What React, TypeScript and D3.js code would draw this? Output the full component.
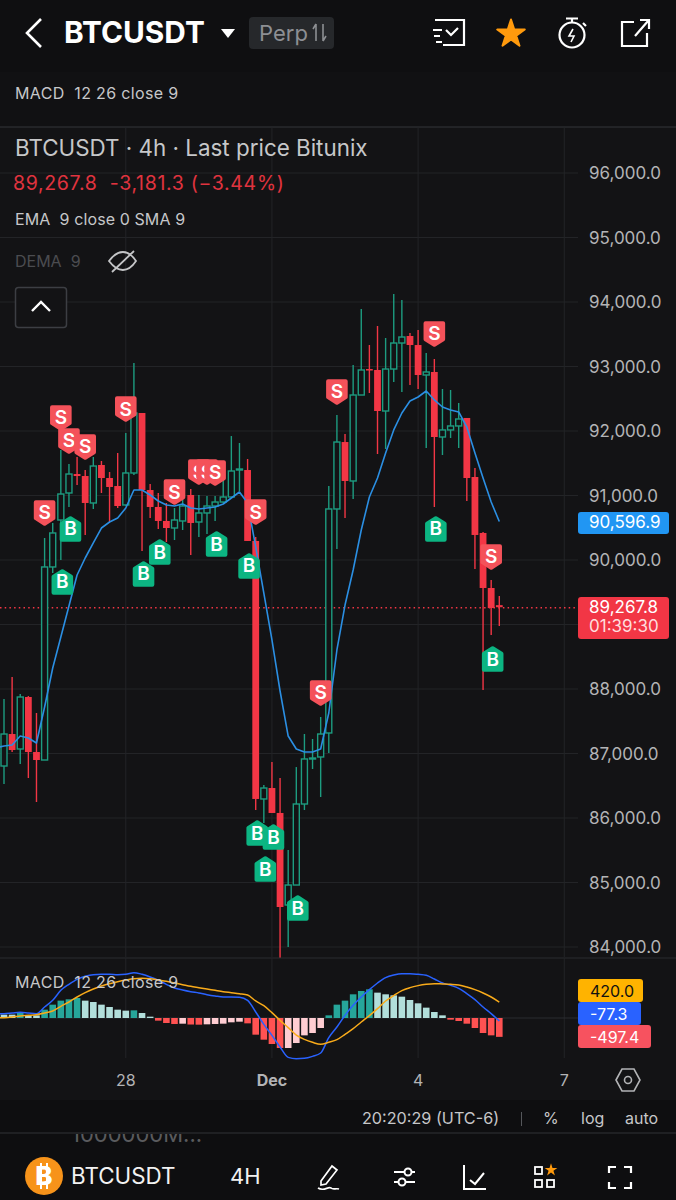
import React from "react";
import * as d3 from "d3";

// open, high, low, close
const opens = [86806,87302,87070,87876,87023,86899,89892,90620,91039,91333,91302,90884,91473,91271,91147,90853,91349,92279,91085,90822,90605,90496,90605,91008,90589,90729,90837,90899,90977,91395,91395,90295,86295,86465,86078,84651,84961,86217,86915,86946,87318,90791,91829,91225,92558,92961,92946,92310,92961,93364,93473,93333,92868,92915,91907,92016,92078,92202,91287,90419,89566,89300];
const highs = [87845,88186,87922,87891,87628,90341,90574,91705,91488,91597,91395,91597,91535,91364,91659,91969,93054,92279,91178,91039,90884,90806,90977,91101,91008,90992,90992,91426,91922,91814,91566,90357,86512,86868,86620,85504,86790,87302,87225,87566,91147,92248,91954,93023,93892,93333,93628,93442,94124,94031,93519,93566,93209,93116,92651,92636,92434,92202,91426,90434,89690,89442];
const lows = [86527,87023,86837,86620,86248,86899,89799,90000,90822,91163,90388,90791,91039,90589,90806,90837,91318,90140,90651,90481,90279,90310,90465,90078,90357,90403,90605,90884,90977,91070,90295,86124,85922,86078,83830,84000,84961,86124,86760,86326,87008,90171,90651,90946,92558,92589,91643,91721,92760,92604,92713,92651,91736,90822,91628,91891,91736,90915,89860,87985,88837,88977];
const closes = [87302,87054,87876,87023,86899,89892,90419,91023,91333,91302,90884,91457,91271,91132,90837,91349,92279,91085,90822,90605,90496,90620,90837,90574,90729,90837,90899,90977,91380,91411,90295,86295,86465,86078,84620,84961,86217,86915,86930,87302,90791,91829,91225,92558,92946,92946,92310,92961,93364,93457,93333,92868,92915,91907,92016,92078,92186,91271,90388,89566,89256,89267.8];

// EMA (first point sits one bar left of the first candle)
const emaValues = [87090,87116,87132,87271,87240,87163,87721,88326,88806,89287,89767,90031,90264,90496,90589,90651,90806,91085,91085,91008,90915,90853,90837,90868,90806,90791,90806,90822,90868,90961,91054,90884,90202,89488,88760,87969,87271,87070,87023,87023,87070,87628,88605,89302,89845,90465,90977,91271,91659,92016,92279,92465,92527,92620,92481,92372,92326,92295,92062,91659,91271,90899,90596.9];

const macdValues = [114,114,132,150,132,114,290,466,730,889,1021,1100,1144,1153,1153,1144,1153,1197,1153,1082,994,889,792,739,695,660,616,581,554,554,546,466,158,-167,-458,-766,-1038,-1074,-1065,-1012,-924,-519,-238,70,334,554,748,924,1065,1135,1170,1170,1153,1126,1030,924,862,783,642,484,290,114,-77.3];
const signalValues = [5,9,26,53,70,88,132,185,308,422,554,669,766,845,906,959,1003,1038,1047,1038,1003,968,924,880,836,801,766,730,695,669,642,607,449,326,141,-62,-255,-449,-563,-642,-695,-642,-572,-431,-282,-106,62,246,449,590,722,801,854,889,906,898,889,871,818,748,660,554,420];
const histValues = [88,88,132,70,70,220,352,458,493,528,458,422,352,290,220,194,202,132,35,-70,-132,-158,-150,-172,-176,-167,-158,-150,-114,-97,-141,-440,-572,-686,-792,-792,-660,-458,-396,-264,70,352,458,625,713,757,669,625,598,563,475,387,273,158,70,-44,-79,-150,-264,-396,-458,-497.4];

const sellIdx = [5,7,8,10,15,21,24,25,26,31,39,41,53,60];
const sellPrice = [90729,92202,91845,91752,92341,91054,91364,91364,91349,90744,87938,92605,93504,90047];
const buyIdx = [7,8,17,19,26,30,31,33,32,36,53,60];
const buyPrice = [89659,90481,89783,90124,90248,89907,85767,85705,85209,84604,90481,88465];

const priceTicks = [96000,95000,94000,93000,92000,91000,90000,89000,88000,87000,86000,85000,84000];
const timeTicks = [{ i: 15, label: "28", bold: false }, { i: 33, label: "Dec", bold: true }, { i: 51, label: "4", bold: false }, { i: 69, label: "7", bold: false }];

const lastPrice = 89267.8;
const emaLast = 90596.9;

const FONT = "Inter, 'Noto Sans', sans-serif";
const BG = "#131315";
const UP = "#1d9c80";
const DOWN = "#f23645";
const GRID = "#232427";
const AXIS = "#b3b4b6";
const TXT = "#c6c7c9";

const x = d3.scaleLinear().domain([0, 61]).range([4, 499.3]);
const y = d3.scaleLinear().domain([84000, 96000]).range([947, 173]);
const ym = d3.scaleLinear().domain([-1000, 1000]).range([1018 + 37.9, 1018 - 37.9]);
const fmt = d3.format(",.1f");

function markPath(cx: number, cy: number, up: boolean) {
  const s = up ? -1 : 1;
  const w = 8.8, t = 10.8, m = 5.2, b = 10.8;
  return `M${cx - w} ${cy - s * t}H${cx + w}V${cy + s * m}L${cx} ${cy + s * b}L${cx - w} ${cy + s * m}Z`;
}

function Mark({ i, price, kind }: { i: number; price: number; kind: "S" | "B" }) {
  const up = kind === "B";
  const cx = x(i) + (up ? 1.5 : 0);
  const cy = y(price);
  const c = up ? "#0cb582" : "#f4525a";
  return (
    <g>
      <path d={markPath(cx, cy, up)} fill={c} stroke={c} strokeWidth={4} strokeLinejoin="round" />
      <text x={cx} y={cy + 6.5} textAnchor="middle" fontSize={19} fontWeight={600} fill="#fff" fontFamily={FONT}>{kind}</text>
    </g>
  );
}

export default function App() {
  const ema = d3.line<number>().x((_, i) => x(i - 1)).y((d) => y(d))(emaValues) as string;
  const macd = d3.line<number>().x((_, i) => x(i - 1)).y((d) => ym(d)).curve(d3.curveMonotoneX)(macdValues) as string;
  const signal = d3.line<number>().x((_, i) => x(i - 1)).y((d) => ym(d)).curve(d3.curveMonotoneX)(signalValues) as string;
  const star = d3.symbol().type(d3.symbolStar).size(235)() as string;
  return (
    <svg width={676} height={1200} style={{ position: "absolute", left: 0, top: 0, display: "block" }} fontFamily={FONT}>
      <defs>
        <clipPath id="ghost"><rect x={0} y={1134} width={676} height={9} /></clipPath>
      </defs>
      <rect width={676} height={1200} fill={BG} />
      <rect width={676} height={72} fill="#0f0f11" />
      <rect y={72} width={676} height={55} fill="#111113" />

      {/* header */}
      <path d="M41 19L27 33L41 47" fill="none" stroke="#fff" strokeWidth={2.6} />
      <text x={64} y={43} fontSize={29.8} fontWeight={700} fill="#fff">BTCUSDT</text>
      <path d="M221 29H235L228 38Z" fill="#fff" />
      <rect x={249} y={17} width={85} height={32} rx={4} fill="#26282b" />
      <text x={259} y={41} fontSize={22} fill="#8d8f93">Perp</text>
      <path d="M316 24V41M316 24L313 29M323 41V24M323 41L326 36" stroke="#8d8f93" strokeWidth={1.6} fill="none" />
      <path d="M435 20H464V45H443M433 30H442M434 36H440M436 42H442M446 30L451 35L458 28" stroke="#fff" strokeWidth={2.2} fill="none" />
      <path d={star} transform="translate(511,34)" fill="#ff9a0d" stroke="#ff9a0d" strokeWidth={2} strokeLinejoin="round" />
      <circle cx={572} cy={35} r={12.5} fill="none" stroke="#fff" strokeWidth={2.2} />
      <path d="M566 18.5H578M572 19V22M583 23L586 26" stroke="#fff" strokeWidth={2.2} fill="none" />
      <path d="M573 29L569 36H574L571 42" stroke="#fff" strokeWidth={1.6} fill="none" />
      <path d="M634 22H622V46H647V33M635 36L648 21M640 20H649V29" stroke="#fff" strokeWidth={2.2} fill="none" />

      <text x={15} y={99} fontSize={16} letterSpacing={0.35} fill={TXT}>{"MACD\u00a0\u00a012 26 close 9"}</text>
      <line x1={0} x2={676} y1={127} y2={127} stroke="#34363b" strokeWidth={1} />

      {/* grid */}
      {priceTicks.map((p) => <line key={p} x1={0} x2={578} y1={y(p)} y2={y(p)} stroke={GRID} />)}
      {timeTicks.map((t) => <line key={t.label} x1={x(t.i)} x2={x(t.i)} y1={127} y2={957} stroke={GRID} />)}

      <text x={15} y={156} fontSize={22.4} fill={TXT}>BTCUSDT · 4h · Last price Bitunix</text>
      <text x={13} y={190} fontSize={19.5} letterSpacing={0.67} fill="#e0333f">{"89,267.8\u00a0\u00a0-3,181.3 (−3.44%)"}</text>
      <text x={15} y={225} fontSize={16} letterSpacing={0.1} fill={TXT}>{"EMA\u00a0\u00a09 close 0 SMA 9"}</text>
      <text x={15} y={267} fontSize={16} fill="#4b4c50">{"DEMA\u00a0\u00a09"}</text>
      <path d="M109 261C118 249 128 249 136 261C128 273 118 273 109 261ZM112 272L134 251" fill="none" stroke="#c4c5c7" strokeWidth={1.8} />
      <rect x={15.5} y={287.5} width={51} height={40} rx={3} fill={BG} stroke="#3c3e43" strokeWidth={1.5} />
      <path d="M32 311L41 302L50 311" fill="none" stroke="#fff" strokeWidth={2.4} />

      {/* price line */}
      <line x1={0} x2={578} y1={y(lastPrice) + 0.5} y2={y(lastPrice) + 0.5} stroke={DOWN} strokeWidth={1.5} strokeDasharray="1.5 3.2" />

      {/* candles */}
      {opens.map((o, i) => {
        const c = closes[i];
        const up = c >= o;
        const col = up ? UP : DOWN;
        const top = y(Math.max(o, c));
        const bot = y(Math.min(o, c));
        return (
          <g key={i}>
            <line x1={x(i)} x2={x(i)} y1={y(highs[i])} y2={y(lows[i])} stroke={col} strokeWidth={1.4} />
            {up
              ? <rect x={x(i) - 3} y={top} width={6} height={Math.max(bot - top, 1)} fill={BG} stroke={col} strokeWidth={1.4} />
              : <rect x={x(i) - 3.4} y={top} width={6.8} height={Math.max(bot - top, 1.5)} fill={col} />}
          </g>
        );
      })}
      <path d={ema} fill="none" stroke="#2b8fe3" strokeWidth={1.6} strokeLinejoin="round" />

      {/* signals */}
      {sellIdx.map((i, k) => ({ i, price: sellPrice[k], kind: "S" as const }))
        .concat(buyIdx.map((i, k) => ({ i, price: buyPrice[k], kind: "B" as any })))
        .map((m, k) => <Mark key={k} i={m.i} price={m.price} kind={m.kind} />)}

      {/* price axis */}
      {priceTicks.map((p) => (
        <text key={p} x={589} y={y(p) + 6} fontSize={17} fill={AXIS}>{fmt(p)}</text>
      ))}
      <rect x={578} y={512} width={91} height={22} rx={3} fill="#2196f3" />
      <text x={589} y={y(emaLast) + 6.5} fontSize={17} fill="#fff">{fmt(emaLast)}</text>
      <rect x={578} y={597} width={91} height={42} rx={3} fill={DOWN} />
      <text x={589} y={613} fontSize={17} fill="#fff">{fmt(lastPrice)}</text>
      <text x={589} y={632} fontSize={17} fill="#fdd">01:39:30</text>

      {/* MACD pane */}
      <line x1={0} x2={676} y1={958} y2={958} stroke="#2b2d31" />
      {timeTicks.map((t) => <line key={t.label} x1={x(t.i)} x2={x(t.i)} y1={958} y2={1058} stroke={GRID} />)}
      <line x1={0} x2={578} y1={ym(0)} y2={ym(0)} stroke="#2b2c30" />
      {histValues.map((v, i) => {
        const prev = i > 0 ? histValues[i - 1] : v;
        const fill = v >= 0 ? (v > prev ? "#26a69a" : "#b2dfdb") : (v < prev ? "#ff5252" : "#ffcdd2");
        const a = ym(Math.max(v, 0));
        const b = ym(Math.min(v, 0));
        return <rect key={i} x={x(i) - 3.3} y={a} width={6.6} height={b - a} fill={fill} />;
      })}
      <path d={macd} fill="none" stroke="#2962ff" strokeWidth={1.5} />
      <path d={signal} fill="none" stroke="#f9ab1a" strokeWidth={1.5} />
      <text x={15} y={988} fontSize={16} letterSpacing={0.35} fill={TXT}>{"MACD\u00a0\u00a012 26 close 9"}</text>
      <rect x={578} y={979} width={65} height={23} rx={3} fill="#ffb300" />
      <text x={590} y={997} fontSize={16} fill="#111">420.0</text>
      <rect x={578} y={1002} width={63} height={23} rx={3} fill="#2962ff" />
      <text x={590} y={1020} fontSize={16} fill="#fff">-77.3</text>
      <rect x={578} y={1025} width={73} height={23} rx={3} fill="#f7525f" />
      <text x={590} y={1043} fontSize={16} fill="#fff">-497.4</text>

      {/* time axis */}
      {timeTicks.map((t) => (
        <text key={t.label} x={x(t.i)} y={1086} textAnchor="middle" fontSize={16} fontWeight={t.bold ? 700 : 400} fill={AXIS}>{t.label}</text>
      ))}
      <path d="M616 1080L622 1069H634L640 1080L634 1091H622Z" fill="none" stroke="#b3b4b6" strokeWidth={1.6} />
      <circle cx={628} cy={1080} r={3.5} fill="none" stroke="#b3b4b6" strokeWidth={1.6} />

      {/* footer */}
      <rect y={1100} width={676} height={100} fill="#0e0e10" />
      <text x={362} y={1124} fontSize={16.2} fill={TXT}>20:20:29 (UTC-6)</text>
      <line x1={521.5} x2={521.5} y1={1112} y2={1126} stroke="#55575b" />
      <text x={543} y={1124} fontSize={16} fill={TXT}>%</text>
      <text x={581} y={1124} fontSize={16} fill={TXT}>log</text>
      <text x={625} y={1124} fontSize={16} fill={TXT}>auto</text>
      <line x1={0} x2={676} y1={1133} y2={1133} stroke="#303236" />
      <text x={71} y={1142} fontSize={22} fill="#5a5b5e" clipPath="url(#ghost)">1000000M...</text>

      <circle cx={44} cy={1176} r={19} fill="#f7931a" />
      <text x={44} y={1185} textAnchor="middle" fontSize={26} fontWeight={800} fill="#fff">B</text>
      <path d="M41 1163V1189M47 1163V1189" stroke="#fff" strokeWidth={2} />
      <text x={71} y={1184} fontSize={22.4} fill="#f2f2f2">BTCUSDT</text>
      <text x={230} y={1184} fontSize={22} fill="#f2f2f2">4H</text>
      <path d="M321 1181L332 1166L337 1170L326 1184L321 1185ZM318 1188C324 1192 328 1186 331 1188C333 1190 336 1188 339 1189" fill="none" stroke="#fff" strokeWidth={1.7} />
      <path d="M394 1172H404M412 1172H415M394 1182H398M406 1182H415" stroke="#fff" strokeWidth={2} />
      <circle cx={408} cy={1172} r={3.5} fill="none" stroke="#fff" strokeWidth={2} />
      <circle cx={402} cy={1182} r={3.5} fill="none" stroke="#fff" strokeWidth={2} />
      <path d="M464 1165V1189H486M470 1180L475 1184L484 1173" fill="none" stroke="#fff" strokeWidth={2} />
      <rect x={535} y={1167} width={7} height={7} fill="none" stroke="#fff" strokeWidth={1.8} />
      <rect x={535} y={1180} width={7} height={7} fill="none" stroke="#fff" strokeWidth={1.8} />
      <rect x={547} y={1180} width={7} height={7} fill="none" stroke="#fff" strokeWidth={1.8} />
      <path d={d3.symbol().type(d3.symbolStar).size(50)() as string} transform="translate(551,1170)" fill="#ff9a0d" />
      <path d="M609 1173V1167H616M624 1167H631V1173M631 1182V1188H624M616 1188H609V1182" fill="none" stroke="#fff" strokeWidth={2.2} />
    </svg>
  );
}
